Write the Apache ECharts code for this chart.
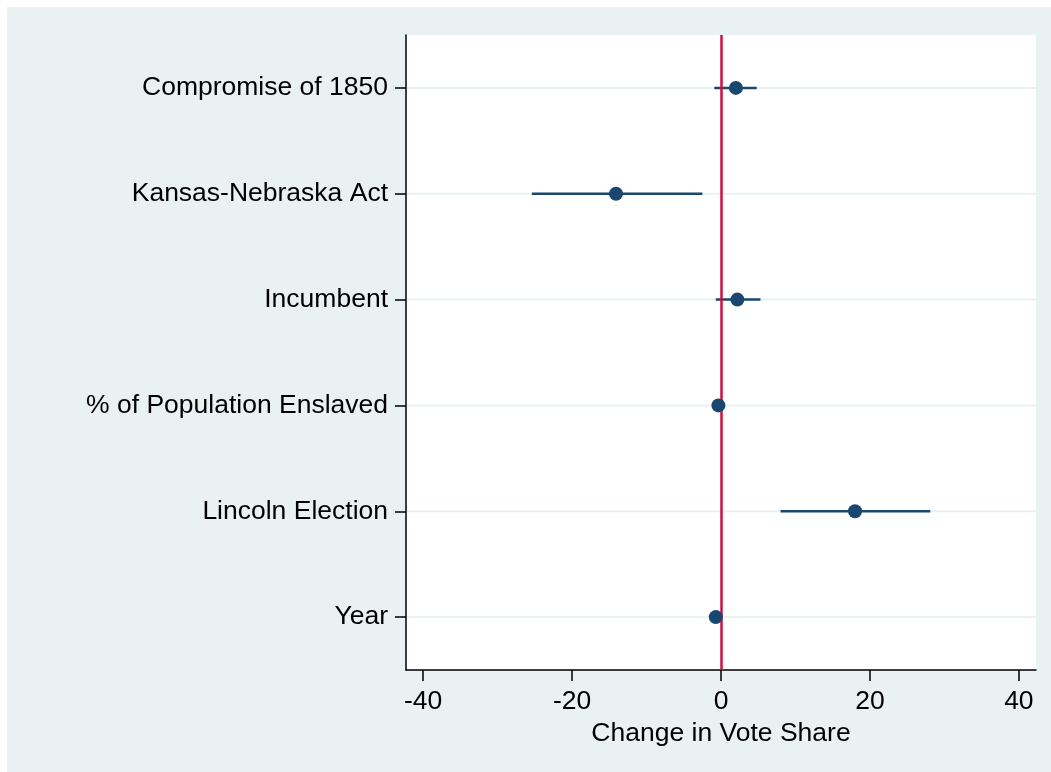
<!DOCTYPE html>
<html>
<head>
<meta charset="utf-8">
<script src="https://cdn.jsdelivr.net/npm/echarts@6/dist/echarts.min.js"></script>
<style>
  html, body { margin: 0; padding: 0; background: #fff; }
  #chart { width: 1051px; height: 772px; }
</style>
</head>
<body>
<div id="chart"></div>
<script>
var chart = echarts.init(document.getElementById('chart'));

// 系数及置信区间
var variables = ['Compromise of 1850', 'Kansas-Nebraska Act', 'Incumbent',
                 '% of Population Enslaved', 'Lincoln Election', 'Year'];
var coef  = [2.0, -14.1, 2.2, -0.35, 18.0, -0.7];
var lower = [-0.9, -25.4, -0.7, -0.6, 8.0, -0.9];
var upper = [4.8, -2.5, 5.3, -0.1, 28.1, -0.5];
var xTicks = [-40, -20, 0, 20, 40];

var bgColor = '#EAF1F3';
var navy = '#1A476F';
var font = 'Liberation Sans, Arial, sans-serif';

var ciData = variables.map(function (v, i) { return [lower[i], upper[i], i]; });
var pointData = variables.map(function (v, i) { return [coef[i], i]; });
var gridData = variables.map(function (v, i) { return [i]; });

option = {
    backgroundColor: '#fff',
    animation: false,
    graphic: [{
        type: 'rect',
        left: 7, top: 7,
        shape: { width: 1044, height: 765 },
        style: { fill: bgColor },
        z: -10
    }],
    grid: {
        left: 406, right: 15, top: 35, bottom: 102,
        show: true, backgroundColor: '#fff', borderWidth: 0
    },
    xAxis: {
        type: 'value',
        min: -42.3, max: 42.3,
        name: 'Change in Vote Share',
        nameLocation: 'middle',
        nameGap: 40,
        nameTextStyle: { color: '#000', fontSize: 26.5, fontFamily: font },
        axisLine: { show: true, onZero: false, lineStyle: { color: '#000', width: 1.5 } },
        axisTick: { show: true, length: 11, customValues: xTicks, lineStyle: { color: '#000', width: 1.5 } },
        axisLabel: { customValues: xTicks, color: '#000', fontSize: 26.5, fontFamily: font, margin: 18 },
        splitLine: { show: false }
    },
    yAxis: {
        type: 'category',
        data: variables,
        inverse: true,
        boundaryGap: true,
        axisLine: { show: true, onZero: false, lineStyle: { color: '#000', width: 1.5 } },
        axisTick: { show: true, alignWithLabel: true, length: 11, lineStyle: { color: '#000', width: 1.5 } },
        axisLabel: { color: '#000', fontSize: 26.5, fontFamily: font, margin: 18, padding: [5, 0, 0, 0] },
        splitLine: { show: false }
    },
    series: [
        {
            // 横向网格线
            type: 'custom',
            silent: true,
            z: 1,
            renderItem: function (params, api) {
                var p = api.coord([0, api.value(0)]);
                var cs = params.coordSys;
                return {
                    type: 'line',
                    shape: { x1: cs.x + 1, y1: p[1], x2: cs.x + cs.width, y2: p[1] },
                    style: { stroke: bgColor, lineWidth: 2 }
                };
            },
            encode: { y: 0 },
            data: gridData
        },
        {
            // 置信区间
            type: 'custom',
            z: 3,
            renderItem: function (params, api) {
                var a = api.coord([api.value(0), api.value(2)]);
                var b = api.coord([api.value(1), api.value(2)]);
                return {
                    type: 'line',
                    shape: { x1: a[0], y1: a[1], x2: b[0], y2: b[1] },
                    style: { stroke: navy, lineWidth: 2.5 }
                };
            },
            encode: { x: [0, 1], y: 2 },
            data: ciData
        },
        {
            type: 'scatter',
            z: 5,
            symbolSize: 14,
            itemStyle: { color: navy, opacity: 1 },
            data: pointData,
            markLine: {
                silent: true,
                symbol: 'none',
                label: { show: false },
                lineStyle: { color: '#CC1040', width: 2.5, type: 'solid' },
                data: [{ xAxis: 0 }]
            }
        }
    ]
};

chart.setOption(option);
</script>
</body>
</html>
